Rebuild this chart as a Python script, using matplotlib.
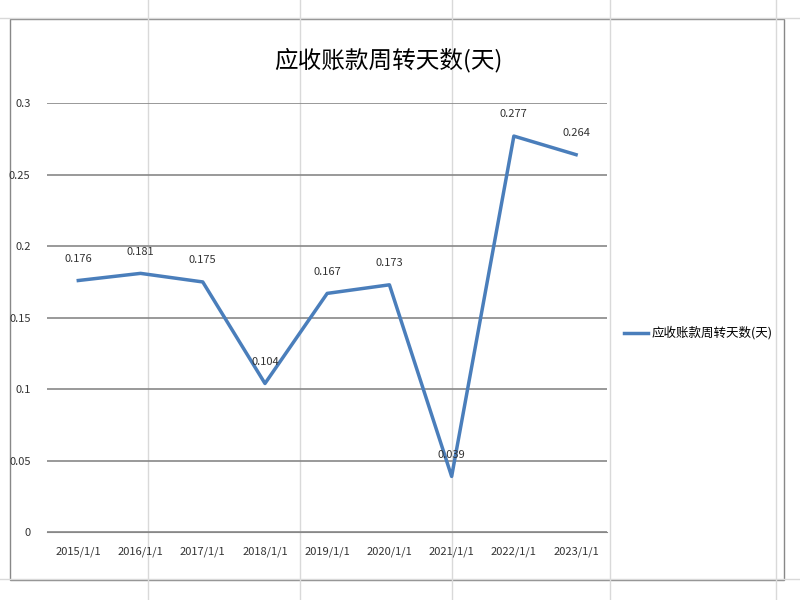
import matplotlib
matplotlib.use("Agg")
import matplotlib.pyplot as plt
from matplotlib.patches import Rectangle
from matplotlib.lines import Line2D

plt.rcParams['font.family'] = ['Noto Sans CJK SC', 'DejaVu Sans']

categories = ["2015/1/1","2016/1/1","2017/1/1","2018/1/1","2019/1/1","2020/1/1","2021/1/1","2022/1/1","2023/1/1"]
values = [0.176, 0.181, 0.175, 0.104, 0.167, 0.173, 0.039, 0.277, 0.264]
series_name = "应收账款周转天数(天)"
yticks = [0, 0.05, 0.1, 0.15, 0.2, 0.25, 0.3]
ytick_labels = ["0", "0.05", "0.1", "0.15", "0.2", "0.25", "0.3"]

fig = plt.figure(figsize=(8, 6), dpi=100)
# spreadsheet background grid
for x in [0.185, 0.375, 0.565, 0.762, 0.97]:
    fig.add_artist(Line2D([x, x], [0, 1], color="#d9d9d9", lw=1))
for y in [0.035, 0.97]:
    fig.add_artist(Line2D([0, 1], [y, y], color="#d9d9d9", lw=1))
fig.add_artist(Rectangle((0.012, 0.033), 0.968, 0.935, facecolor="white",
                         edgecolor="#888888", lw=1, zorder=1))

ax = fig.add_axes([0.059, 0.113, 0.70, 0.715], zorder=2)
ax.set_facecolor("none")
x = list(range(len(categories)))
ax.plot(x, values, color="#4a7ebb", lw=2.5)
for xi, v in zip(x, values):
    ax.annotate(f"{v:g}", (xi, v), xytext=(0, 12), textcoords="offset points",
                ha="center", va="bottom", fontsize=8, color="#333333")
ax.set_xlim(-0.5, len(categories) - 0.5)
ax.set_ylim(0, 0.3)
ax.set_yticks(yticks)
ax.set_yticklabels(ytick_labels)
ax.set_xticks(x)
ax.set_xticklabels(categories)
ax.tick_params(axis="both", length=0, labelsize=8, colors="#333333")
ax.tick_params(axis="x", pad=10)
ax.tick_params(axis="y", pad=12)
ax.grid(axis="y", color="#888888", lw=1.2)
ax.set_axisbelow(True)
for s in ["top", "right", "left"]:
    ax.spines[s].set_visible(False)
ax.spines["bottom"].set_color("#888888")

fig.text(0.485, 0.9, series_name, ha="center", va="center", fontsize=17)
fig.add_artist(Line2D([0.78, 0.81], [0.445, 0.445], color="#4a7ebb", lw=2.5, zorder=3))
fig.text(0.815, 0.445, series_name, ha="left", va="center", fontsize=9, zorder=3)

fig.savefig("out.png")
